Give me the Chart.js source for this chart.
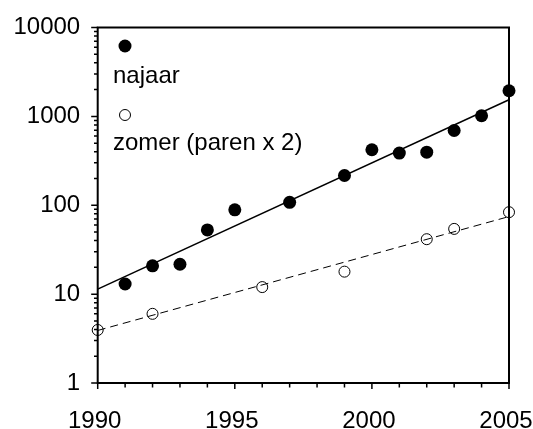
<!DOCTYPE html>
<html>
<head>
<meta charset="utf-8">
<script src="https://cdn.jsdelivr.net/npm/chart.js@4/dist/chart.umd.min.js"></script>
<style>
  html, body { margin: 0; padding: 0; background: #fff; }
  #wrap { width: 533px; height: 429px; }
</style>
</head>
<body>
<div id="wrap"><canvas id="c" width="533" height="429"></canvas></div>
<script>
// ---- data ----
const najaarYears = [1991, 1992, 1993, 1994, 1995, 1997, 1999, 2000, 2001, 2002, 2003, 2004, 2005];
const najaarValues = [13, 20.8, 21.7, 52.8, 88.8, 108, 216, 421, 386, 396, 694, 1016, 1941];
const zomerYears = [1990, 1992, 1996, 1999, 2002, 2003, 2005];
const zomerValues = [3.95, 6.0, 12.0, 17.9, 41.5, 54.2, 83.6];
const fitYears = [1990, 2005];
const fitNajaar = [11.4, 1540];
const fitZomer = [3.9, 74.6];
const xTickLabels = [1990, 1995, 2000, 2005];
const yTickLabels = [1, 10, 100, 1000, 10000];
const legendLabels = ['najaar', 'zomer (paren x 2)'];

const FONT = "'Liberation Sans', Arial, sans-serif";
const FS = 24;
Chart.defaults.color = '#000';
Chart.defaults.font.family = FONT;

const pts = (xs, ys) => xs.map((v, i) => ({ x: v, y: ys[i] }));

const decor = {
  id: 'decor',
  beforeDatasetsDraw(chart) {
    const { ctx, chartArea: a, scales: { x, y } } = chart;
    ctx.save();
    ctx.strokeStyle = '#000';
    ctx.lineWidth = 1.5;
    ctx.beginPath();
    for (let yr = xTickLabels[0]; yr <= xTickLabels[xTickLabels.length - 1]; yr++) {
      const px = x.getPixelForValue(yr);
      const len = xTickLabels.includes(yr) ? 6 : 4.5;
      ctx.moveTo(px, a.bottom);
      ctx.lineTo(px, a.bottom + len);
    }
    for (let k = 0; k < yTickLabels.length; k++) {
      const d = yTickLabels[k];
      const maxM = (k === yTickLabels.length - 1) ? 1 : 9;
      for (let m = 1; m <= maxM; m++) {
        const py = y.getPixelForValue(m * d);
        const len = m === 1 ? 6.5 : 3.7;
        ctx.moveTo(a.left, py);
        ctx.lineTo(a.left - len, py);
      }
    }
    ctx.stroke();
    ctx.lineWidth = 2;
    ctx.strokeRect(a.left, a.top, a.right - a.left, a.bottom - a.top);
    ctx.restore();
  },
  afterDraw(chart) {
    const { ctx } = chart;
    ctx.save();
    ctx.fillStyle = '#000';
    ctx.beginPath();
    ctx.arc(125, 46, 6.5, 0, Math.PI * 2);
    ctx.fill();
    ctx.strokeStyle = '#000';
    ctx.lineWidth = 1;
    ctx.beginPath();
    ctx.arc(125, 115, 5.5, 0, Math.PI * 2);
    ctx.stroke();
    ctx.font = FS + 'px ' + FONT;
    ctx.textAlign = 'left';
    ctx.textBaseline = 'alphabetic';
    ctx.fillText(legendLabels[0], 113, 82.5);
    ctx.fillText(legendLabels[1], 113, 149.5);
    ctx.restore();
  }
};

new Chart(document.getElementById('c'), {
  type: 'scatter',
  data: {
    datasets: [
      {
        type: 'line', data: pts(fitYears, fitNajaar),
        borderColor: '#000', borderWidth: 1.5, pointRadius: 0, fill: false, clip: false
      },
      {
        type: 'line', data: pts(fitYears, fitZomer),
        borderColor: '#000', borderWidth: 1, borderDash: [8, 5], pointRadius: 0, fill: false, clip: false
      },
      {
        data: pts(najaarYears, najaarValues),
        pointRadius: 6.5, pointBackgroundColor: '#000', pointBorderColor: '#000', pointBorderWidth: 0, clip: false
      },
      {
        data: pts(zomerYears, zomerValues),
        pointRadius: 5.5, pointBackgroundColor: 'rgba(0,0,0,0)', pointBorderColor: '#000', pointBorderWidth: 1, clip: false
      }
    ]
  },
  options: {
    responsive: false,
    animation: false,
    events: [],
    layout: { padding: { top: 27.5, right: 24, left: 0, bottom: 0 } },
    plugins: { legend: { display: false }, tooltip: { enabled: false } },
    scales: {
      x: {
        type: 'linear', min: 1990, max: 2005,
        grid: { display: false, drawTicks: false },
        border: { display: false },
        afterBuildTicks: s => { s.ticks = xTickLabels.map(v => ({ value: v })); },
        afterFit: s => { s.height = 46; s.paddingLeft = 0; s.paddingRight = 0; },
        ticks: { callback: v => String(v), font: { size: FS }, padding: 24, labelOffset: -3, maxRotation: 0, autoSkip: false, color: '#000' }
      },
      y: {
        type: 'logarithmic', min: 1, max: 10000,
        grid: { display: false, drawTicks: false },
        border: { display: false },
        afterBuildTicks: s => { s.ticks = yTickLabels.map(v => ({ value: v })); },
        afterFit: s => { s.width = 97.7; s.paddingTop = 0; s.paddingBottom = 0; },
        ticks: { callback: v => String(v), font: { size: FS }, padding: 17.5, autoSkip: false, color: '#000' }
      }
    }
  },
  plugins: [decor]
});
</script>
</body>
</html>
